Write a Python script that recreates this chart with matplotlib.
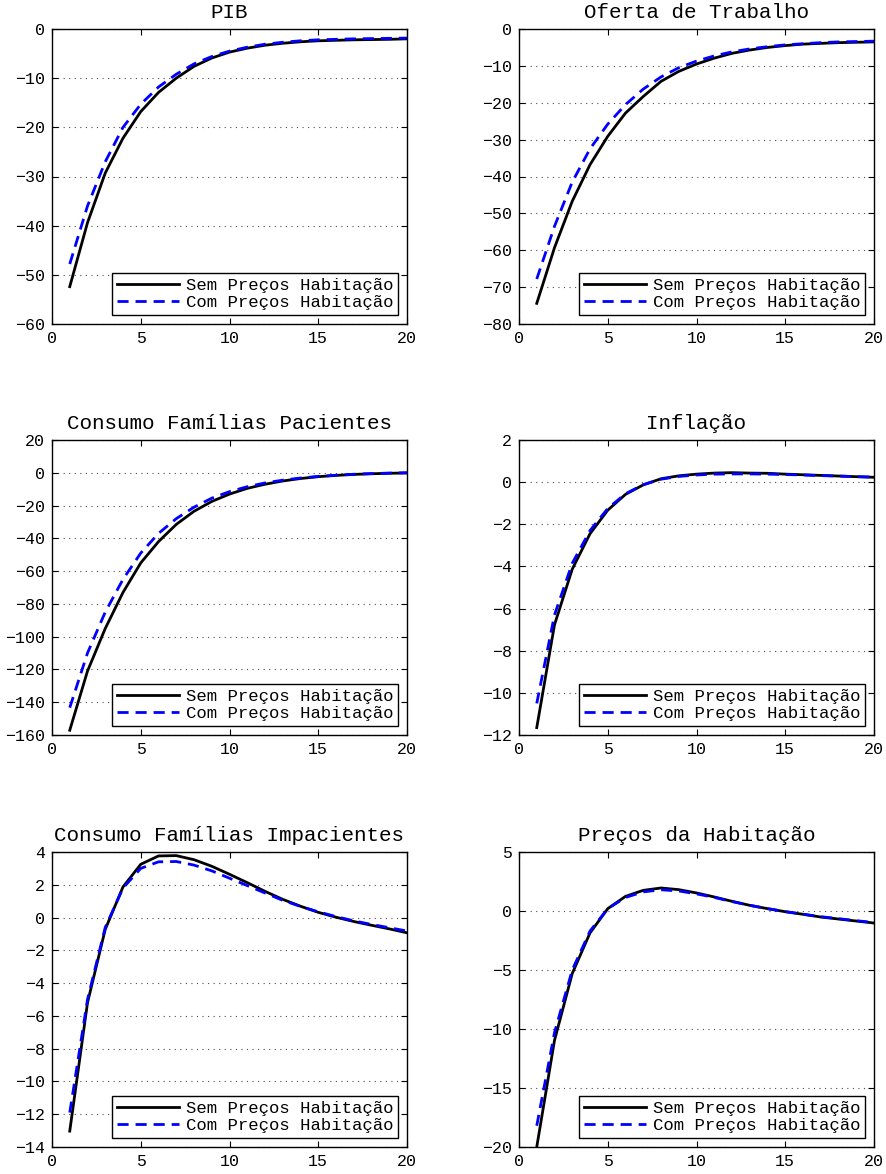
import numpy as np
import matplotlib
matplotlib.use("Agg")
import matplotlib.pyplot as plt

plt.rcParams['font.family'] = ['Liberation Mono', 'DejaVu Sans Mono']

periods = list(range(1, 21))
labels = ['Sem Preços Habitação', 'Com Preços Habitação']

titles = ['PIB', 'Oferta de Trabalho', 'Consumo Famílias Pacientes',
          'Inflação', 'Consumo Famílias Impacientes', 'Preços da Habitação']

# impulse responses
pib_sem = [-52.4, -39.4, -29.3, -22.2, -16.8, -12.9, -10.0, -7.6, -5.9, -4.7,
           -3.9, -3.3, -2.9, -2.6, -2.4, -2.3, -2.2, -2.15, -2.1, -2.0]
pib_com = [-47.8, -36.0, -27.0, -20.0, -15.3, -11.8, -9.2, -7.1, -5.6, -4.5,
           -3.7, -3.1, -2.7, -2.4, -2.2, -2.1, -2.0, -1.95, -1.9, -1.85]

trab_sem = [-74.4, -59.3, -46.7, -36.8, -29.1, -22.8, -18.3, -14.2, -11.5, -9.5,
            -7.9, -6.6, -5.7, -5.0, -4.5, -4.1, -3.9, -3.7, -3.6, -3.5]
trab_com = [-67.8, -53.5, -41.5, -32.5, -25.8, -20.5, -16.3, -13.0, -10.5, -8.7,
            -7.3, -6.2, -5.4, -4.8, -4.3, -4.0, -3.7, -3.5, -3.4, -3.3]

pac_sem = [-157.1, -121.0, -95.0, -73.0, -55.0, -42.0, -31.5, -23.5, -17.5, -13.0,
           -9.5, -7.0, -5.0, -3.5, -2.4, -1.6, -1.0, -0.6, -0.3, -0.1]
pac_com = [-143.3, -110.0, -85.0, -65.0, -49.0, -37.0, -28.0, -21.0, -15.5, -11.5,
           -8.5, -6.2, -4.5, -3.2, -2.2, -1.5, -0.9, -0.5, -0.2, 0.0]

inf_sem = [-11.65, -6.77, -4.13, -2.45, -1.33, -0.58, -0.13, 0.16, 0.30, 0.38,
           0.43, 0.45, 0.43, 0.42, 0.38, 0.35, 0.32, 0.29, 0.26, 0.23]
inf_com = [-10.5, -6.3, -3.85, -2.3, -1.25, -0.55, -0.12, 0.14, 0.27, 0.34,
           0.38, 0.39, 0.39, 0.38, 0.36, 0.34, 0.31, 0.29, 0.26, 0.24]

imp_sem = [-13.03, -5.2, -0.72, 1.87, 3.25, 3.76, 3.78, 3.53, 3.13, 2.64,
           2.13, 1.6, 1.11, 0.69, 0.32, 0.02, -0.24, -0.47, -0.69, -0.93]
imp_com = [-11.9, -5.0, -0.6, 1.8, 3.0, 3.4, 3.42, 3.2, 2.85, 2.4,
           1.95, 1.5, 1.05, 0.68, 0.35, 0.06, -0.2, -0.42, -0.62, -0.82]

hab_sem = [-20.0, -10.96, -5.3, -1.86, 0.2, 1.24, 1.75, 1.95, 1.81, 1.53,
           1.19, 0.82, 0.48, 0.2, -0.06, -0.28, -0.51, -0.68, -0.85, -1.02]
hab_com = [-18.2, -10.3, -5.0, -1.7, 0.2, 1.15, 1.62, 1.8, 1.7, 1.45,
           1.15, 0.8, 0.48, 0.2, -0.05, -0.27, -0.48, -0.65, -0.82, -0.98]

series = [(pib_sem, pib_com), (trab_sem, trab_com), (pac_sem, pac_com),
          (inf_sem, inf_com), (imp_sem, imp_com), (hab_sem, hab_com)]

ylims = [(-60, 0), (-80, 0), (-160, 20), (-12, 2), (-14, 4), (-20, 5)]
ysteps = [10, 10, 20, 2, 2, 5]

W, H = 886, 1174
fig = plt.figure(figsize=(W / 100, H / 100), dpi=100)

lefts = [52, 519]
tops = [29, 440, 852]
aw, ah = 355, 295

for i in range(6):
    r, c = divmod(i, 2)
    ax = fig.add_axes([lefts[c] / W, 1 - (tops[r] + ah) / H, aw / W, ah / H])
    sem, com = series[i]
    ax.plot(periods, sem, color='black', lw=2, label=labels[0])
    ax.plot(periods, com, color='blue', lw=2, dashes=(4, 2.5), label=labels[1])
    lo, hi = ylims[i]
    ax.set_ylim(lo, hi)
    ax.set_xlim(0, 20)
    ax.set_xticks([0, 5, 10, 15, 20])
    ax.set_yticks(np.arange(lo, hi + 0.001, ysteps[i]))
    ax.yaxis.grid(True, linestyle=(0, (1, 4)), color='0.3', lw=0.8)
    ax.tick_params(direction='in', top=True, right=True, length=4,
                   labelsize=12, pad=5)
    for s in ax.spines.values():
        s.set_linewidth(1)
    ax.set_title(titles[i], fontsize=15, pad=8)
    leg = ax.legend(loc='lower right', fontsize=12.4, handlelength=3.6,
                    handletextpad=0.4, borderaxespad=0.5, borderpad=0.3,
                    labelspacing=0.1, fancybox=False, framealpha=1)
    leg.get_frame().set_edgecolor('black')
    leg.get_frame().set_linewidth(1)

fig.savefig('out.png', dpi=100)
